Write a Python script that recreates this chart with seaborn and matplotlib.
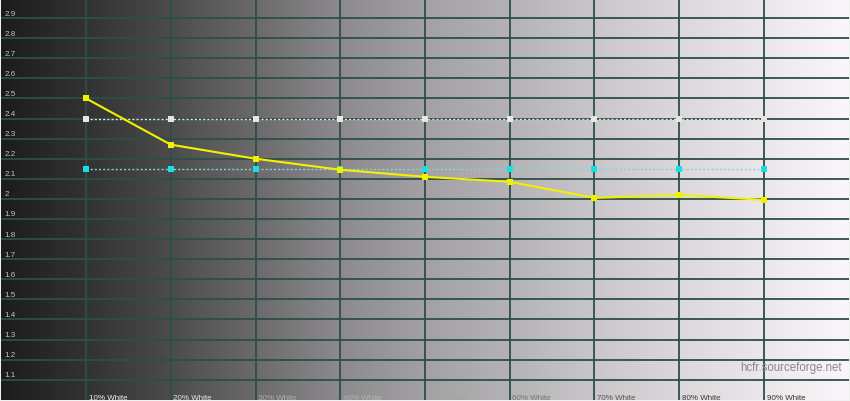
import numpy as np
import pandas as pd
import matplotlib
matplotlib.use("Agg")
import matplotlib.pyplot as plt
import seaborn as sns

# ---- data ----
categories = ["10% White", "20% White", "30% White", "40% White", "50% White",
              "60% White", "70% White", "80% White", "90% White"]
positions = [1, 2, 3, 4, 5, 6, 7, 8, 9]
measured_gamma = [2.50, 2.27, 2.20, 2.145, 2.11, 2.085, 2.005, 2.02, 1.995]
reference_gamma = [2.40, 2.40, 2.40, 2.40, 2.40, 2.40, 2.40, 2.40, 2.40]
second_reference = [2.15, 2.15, 2.15, 2.15, 2.15, 2.15, 2.15, 2.15, 2.15]
y_ticks = [1.1, 1.2, 1.3, 1.4, 1.5, 1.6, 1.7, 1.8, 1.9, 2.0,
           2.1, 2.2, 2.3, 2.4, 2.5, 2.6, 2.7, 2.8, 2.9]
watermark = "hcfr.sourceforge.net"

# ---- styling ----
sns.set_theme(style="white")
plt.rcParams['font.family'] = ['Liberation Sans', 'DejaVu Sans']

fig = plt.figure(figsize=(8.5, 4.02), dpi=100)
fig.patch.set_facecolor("#f0f0f0")
ax = fig.add_axes([0.0015, 0.003, 0.997, 0.9995])
ax.set_xlim(0, 10)
ax.set_ylim(1.0, 3.0)

# background gray ramp
xs = np.linspace(0, 1, 800)
ramp = np.interp(xs, [0.0, 0.1, 0.2, 0.3, 0.4, 0.5, 0.6, 0.7, 0.8, 0.9, 1.0],
                 [0.11, 0.20, 0.30, 0.42, 0.55, 0.64, 0.71, 0.79, 0.86, 0.92, 0.98])
img = np.stack([ramp, ramp * 0.985, ramp], axis=-1)[None, :, :]
ax.imshow(img, extent=[0, 10, 1.0, 3.0], aspect="auto", zorder=0,
          interpolation="bilinear")

grid_color = "#2c4f47"
for v in y_ticks:
    ax.axhline(v, color=grid_color, lw=1.3, zorder=1)
for p in positions:
    ax.axvline(p, color=grid_color, lw=1.3, zorder=1)

df = pd.DataFrame({"pos": positions, "measured": measured_gamma,
                   "ref": reference_gamma, "ref2": second_reference})

sns.lineplot(data=df, x="pos", y="ref", ax=ax, color="#e6e6e6", lw=1.0,
             linestyle=(0, (1.5, 1.5)), marker="s", markersize=4.5,
             markeredgewidth=0, zorder=3)
sns.lineplot(data=df, x="pos", y="ref2", ax=ax, color="#7fd6d6", lw=1.0,
             linestyle=(0, (1.5, 1.5)), marker="s", markersize=4.5,
             markerfacecolor="#19e0e0", markeredgewidth=0, zorder=3)
sns.lineplot(data=df, x="pos", y="measured", ax=ax, color="#f2f200", lw=1.5,
             marker="s", markersize=4.5, markeredgewidth=0, zorder=4)

# y tick labels drawn inside
for v in y_ticks:
    lbl = "2" if abs(v - 2.0) < 1e-9 else f"{v:.1f}"
    ax.text(0.035, v + 0.025, lbl, fontsize=5.8, color="#c4c4c4",
            ha="left", va="center", zorder=5)

label_colors = ["#ececec", "#e4e4e4", "#b0b0b0", "#b4b4b4", "#a4a4a4",
                "#747474", "#555555", "#3c3c3c", "#333333"]
for p, c, col in zip(positions, categories, label_colors):
    ax.text(p + 0.03, 1.012, c, fontsize=5.8, color=col,
            ha="left", va="center", zorder=5)

ax.text(9.92, 1.165, watermark, fontsize=8.3, color="#8a8a8a",
        ha="right", va="center", zorder=5)

ax.set_xticks([])
ax.set_yticks([])
ax.set_xlabel("")
ax.set_ylabel("")
for s in ax.spines.values():
    s.set_visible(False)
leg = ax.get_legend()
if leg:
    leg.remove()

fig.savefig("out.png", dpi=100)
